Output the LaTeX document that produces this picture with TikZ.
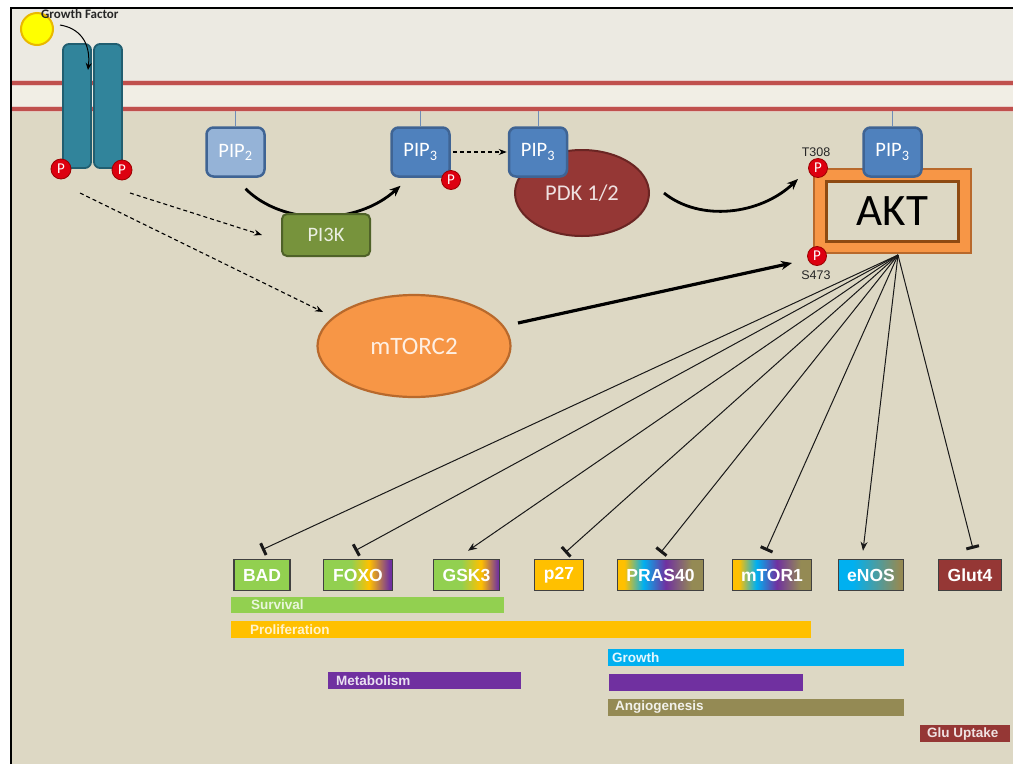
\documentclass[tikz,border=0pt]{standalone}
\usepackage{fontspec}
\setmainfont{Carlito}
\newfontfamily\arialfont{Liberation Sans}
\usetikzlibrary{arrows.meta,shapes.geometric,calc}

% palette
\definecolor{outside}{HTML}{ECEAE2}
\definecolor{between}{HTML}{F1EEE5}
\definecolor{cyto}{HTML}{DDD8C4}
\definecolor{membred}{HTML}{C0504D}
\definecolor{rectl}{HTML}{31849B}
\definecolor{rectd}{HTML}{215E70}
\definecolor{pipl}{HTML}{95B3D7}
\definecolor{pipd}{HTML}{4F81BD}
\definecolor{pipedge}{HTML}{3F6494}
\definecolor{tether}{HTML}{6F8DB8}
\definecolor{kinase}{HTML}{77933C}
\definecolor{kinasedge}{HTML}{4F6228}
\definecolor{pdkfill}{HTML}{953735}
\definecolor{pdkedge}{HTML}{6A2523}
\definecolor{orng}{HTML}{F79646}
\definecolor{orngedge}{HTML}{B8692C}
\definecolor{aktedge}{HTML}{8E4A12}
\definecolor{phosred}{HTML}{DD0010}
\definecolor{phosedge}{HTML}{9A0000}
\definecolor{gfyellow}{HTML}{FFFF00}
\definecolor{gfedge}{HTML}{E9B800}
\definecolor{cGreen}{HTML}{92D050}
\definecolor{cOrange}{HTML}{FFC000}
\definecolor{cPurple}{HTML}{7030A0}
\definecolor{cBlue}{HTML}{00B0F0}
\definecolor{cOlive}{HTML}{948A54}
\definecolor{cRed}{HTML}{953735}

% multi-colour fills of the target boxes
\pgfdeclarehorizontalshading{foxoshade}{100bp}{color(0bp)=(cGreen); color(25bp)=(cGreen); color(45bp)=(cGreen); color(58bp)=(cOrange); color(73bp)=(cPurple); color(100bp)=(cPurple)}
\pgfdeclarehorizontalshading{gskshade}{100bp}{color(0bp)=(cGreen); color(25bp)=(cGreen); color(46bp)=(cGreen); color(61bp)=(cOrange); color(74bp)=(cPurple); color(100bp)=(cPurple)}
\pgfdeclarehorizontalshading{rainbowshade}{100bp}{color(0bp)=(cOrange); color(25bp)=(cOrange); color(29bp)=(cOrange); color(40bp)=(cBlue); color(53bp)=(cPurple); color(68bp)=(cOlive); color(100bp)=(cOlive)}
\pgfdeclarehorizontalshading{enosshade}{100bp}{color(0bp)=(cBlue); color(25bp)=(cBlue); color(36bp)=(cBlue); color(72bp)=(cOlive); color(100bp)=(cOlive)}

\begin{document}
\begin{tikzpicture}[x=1pt,y=-1pt,
  receptor/.style={rectangle, rounded corners=6pt, minimum width=28pt, minimum height=124pt, inner sep=0pt, fill=rectl, draw=rectd, line width=1.8pt},
  phosdot/.style={circle, inner sep=0pt, minimum size=20pt, fill=phosred, draw=phosedge, line width=0.8pt, text=white, font=\fontsize{15}{15}\selectfont},
  pipbox/.style={rectangle, rounded corners=7pt, minimum width=58pt, minimum height=49pt, inner sep=0pt, line width=2.5pt, draw=pipedge, text=white, font=\fontsize{20.5}{20.5}\selectfont},
  tetherline/.style={draw=tether, line width=0.8pt},
  bigarrow/.style={-{Stealth[length=11pt,width=9pt]}, line width=2.8pt, black},
  dasharrow/.style={-{Stealth[length=8pt,width=6pt]}, line width=1.1pt, dash pattern=on 4pt off 3pt, black},
  fanline/.style={line width=1pt, black!90},
  activates/.style={fanline, -{Stealth[length=9pt,width=7pt]}},
  inhibits/.style={fanline, -{Bar[width=13pt,line width=3pt]}},
  target/.style={rectangle, inner sep=0pt, minimum height=31pt, draw=black!75, line width=1.5pt, text=white, font=\arialfont\bfseries\fontsize{17.5}{17.5}\selectfont},
  effectbar/.style={rectangle, anchor=north west, inner sep=0pt, draw=none},
  effecttext/.style={anchor=west, inner sep=0pt, font=\arialfont\bfseries\fontsize{13.5}{13.5}\selectfont}
]

\useasboundingbox (0,0) rectangle (1013,764);
\fill[white] (0,0) rectangle (1013,764);

% compartments
\fill[outside] (11,8) rectangle (1013,83);
\fill[between] (11,83) rectangle (1013,109);
\fill[cyto] (11,109) rectangle (1013,764);

% membrane leaflets
\foreach \yy in {83,109} {
  \draw[membred!40, line width=6pt, opacity=0.6] (11,\yy) -- (1013,\yy);
  \draw[membred, line width=3.5pt] (11,\yy) -- (1013,\yy);
}
\coordinate (memb) at (0,111);

% frame
\draw[black, line width=2.2pt] (11,764) -- (11,8) -- (1013,8);

% receptor dimer
\node[receptor] (recL) at (77,106) {};
\node[receptor] (recR) at (108,106) {};
\node[phosdot] (pL) at (61,169) {P};
\node[phosdot] (pR) at (122,170) {P};

% growth factor
\node[circle, minimum size=32pt, inner sep=0pt, fill=gfyellow, draw=gfedge, line width=2pt] (gf) at (37,29) {};
\node[anchor=west, inner sep=0pt, text=black!85, font=\bfseries\fontsize{13}{13}\selectfont] (gflabel) at (41,14) {Growth Factor};
\coordinate (gfstart) at (60,25);
\coordinate (gfend) at (88,70);
\draw[-{Stealth[length=7pt,width=6pt]}, line width=1pt, black] (gfstart) .. controls (79,28) and (91,42) .. (gfend);

% lipids
\node[pipbox, fill=pipl] (pip2) at (235.5,152) {PIP\textsubscript{2}};
\node[pipbox, fill=pipd] (pip3a) at (420.5,152) {PIP\textsubscript{3}};
\draw[tetherline] (pip2.north) -- (pip2.north |- memb);
\draw[tetherline] (pip3a.north) -- (pip3a.north |- memb);
\node[phosdot, minimum size=19pt] (pA) at (451,180) {P};

% PI3K conversion of PIP2 to PIP3
\draw[bigarrow] ([xshift=10pt,yshift=-11pt]pip2.south) .. controls (283,226) and (356,226) .. ([xshift=-20pt,yshift=-8pt]pip3a.south);
\node[rectangle, rounded corners=5pt, minimum width=88pt, minimum height=42pt, inner sep=0pt, fill=kinase, draw=kinasedge, line width=2pt, text=kinase!15, font=\fontsize{20.5}{20.5}\selectfont] (pi3k) at (326,235) {PI3K};

% PDK 1/2 with its PIP3
\node[ellipse, minimum width=134pt, minimum height=86pt, inner sep=0pt, fill=pdkfill, draw=pdkedge, line width=2pt, text=pdkfill!15, font=\fontsize{22.5}{22.5}\selectfont] (pdk) at (582,193) {\raisebox{-2pt}{PDK 1/2}};
\node[pipbox, fill=pipd] (pip3b) at (538,152) {PIP\textsubscript{3}};
\draw[tetherline] (pip3b.north) -- (pip3b.north |- memb);
\draw[dasharrow] ([xshift=2pt]pip3a.east) -- ([xshift=-1pt]pip3b.west);

% mTORC2
\node[ellipse, minimum width=193pt, minimum height=102pt, inner sep=0pt, fill=orng, draw=orngedge, line width=2.2pt, text=orng!15, font=\fontsize{25}{25}\selectfont] (mtorc) at (414,346) {mTORC2};

% receptor signalling (dashed)
\draw[dasharrow] ([shift={(19pt,-24pt)}]pL.center) -- ($(mtorc.center)+(-91,-34)$);
\draw[dasharrow] ([shift={(8pt,-23pt)}]pR.center) -- ([xshift=-19pt]pi3k.west);

% AKT
\node[rectangle, minimum width=157pt, minimum height=84pt, inner sep=0pt, fill=orng, draw=orngedge, line width=2pt] (akt) at (892.5,211) {};
\node[rectangle, minimum width=132pt, minimum height=60pt, inner sep=0pt, fill=cyto, draw=aktedge, line width=3pt, font=\fontsize{45}{45}\selectfont] (aktin) at (892.5,211.5) {AKT};
\node[pipbox, fill=pipd] (pip3c) at (892.5,152) {PIP\textsubscript{3}};
\draw[tetherline] (pip3c.north) -- (pip3c.north |- memb);
\node[phosdot, minimum size=19pt] (pT) at (818,168) {P};
\node[phosdot, minimum size=19pt] (pS) at (817,256) {P};
\node[font=\arialfont\fontsize{12.5}{12.5}\selectfont, text=black!85, inner sep=0pt] (t308) at (816,152) {T308};
\node[font=\arialfont\fontsize{12.5}{12.5}\selectfont, text=black!85, inner sep=0pt] (s473) at (816,275) {S473};

% phosphorylation of AKT
\draw[bigarrow] ([xshift=14pt]pdk.east) .. controls (700,222) and (760,215) .. ([shift={(-20pt,-11pt)}]pT.center);
\draw[bigarrow, line width=3.2pt] ($(mtorc.center)+(104,-23)$) -- ([shift={(-25pt,-7pt)}]pS.center);

% downstream targets
\node[target, minimum width=56pt, fill=cGreen] (bad) at (262,575) {BAD};
\node[target, minimum width=69pt, shade, shading=foxoshade] (foxo) at (358,575) {FOXO};
\node[target, minimum width=66pt, shade, shading=gskshade] (gsk) at (466.5,575) {GSK3};
\node[target, minimum width=49pt, fill=cOrange] (p27) at (559,575) {p27};
\node[target, minimum width=86pt, shade, shading=rainbowshade] (pras) at (660.5,575) {PRAS40};
\node[target, minimum width=79pt, shade, shading=rainbowshade] (mtor) at (772,575) {mTOR1};
\node[target, minimum width=65pt, shade, shading=enosshade] (enos) at (871,575) {eNOS};
\node[target, minimum width=63pt, fill=cRed] (glut) at (970,575) {Glut4};

% AKT fan-out
\coordinate (fan) at ([xshift=5.5pt,yshift=-1pt]akt.south);
\draw[inhibits] (fan) -- ([yshift=9pt]bad.north);
\draw[inhibits] (fan) -- ([xshift=-3pt,yshift=8pt]foxo.north);
\draw[activates] (fan) -- ([xshift=1.5pt,yshift=8pt]gsk.north);
\draw[inhibits] (fan) -- ([xshift=6pt,yshift=6pt]p27.north);
\draw[inhibits] (fan) -- ([yshift=6pt]pras.north);
\draw[inhibits] (fan) -- ([xshift=-6pt,yshift=8pt]mtor.north);
\draw[activates] (fan) -- ([xshift=-8pt,yshift=8pt]enos.north);
\draw[inhibits] (fan) -- ([xshift=3pt,yshift=10pt]glut.north);

% cellular outcomes
\node[effectbar, fill=cGreen, minimum width=273pt, minimum height=16pt] (survival) at (231,597) {};
\node[effecttext, text=cGreen!20] (survivaltxt) at (251,605) {Survival};
\node[effectbar, fill=cOrange, minimum width=580pt, minimum height=17pt] (prolif) at (231,621) {};
\node[effecttext, text=cOrange!20] (proliftxt) at (250,629.5) {Proliferation};
\node[effectbar, fill=cBlue, minimum width=296pt, minimum height=17pt] (growth) at (608,649) {};
\node[effecttext, text=cBlue!10] (growthtxt) at (612,657.5) {Growth};
\node[effectbar, fill=cPurple, minimum width=193pt, minimum height=17pt] (metab) at (328,672) {};
\node[effecttext, text=cPurple!15] (metabtxt) at (336,680.5) {Metabolism};
\node[effectbar, fill=cPurple, minimum width=194pt, minimum height=17pt] (metab2) at (609,674) {};
\node[effectbar, fill=cOlive, minimum width=296pt, minimum height=17pt] (angio) at (608,699) {};
\node[effecttext, text=cOlive!12] (angiotxt) at (615,707.5) {Angiogenesis};
\node[effectbar, fill=cRed, minimum width=90pt, minimum height=17pt] (glu) at (920,725) {};
\node[effecttext, text=cRed!15] (glutxt) at (927,733.5) {Glu Uptake};

\end{tikzpicture}
\end{document}
